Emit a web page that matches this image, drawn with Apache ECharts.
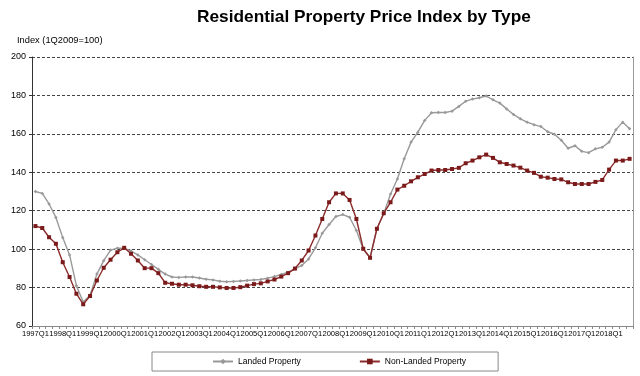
<!DOCTYPE html>
<html>
<head>
<meta charset="utf-8">
<script src="https://cdn.jsdelivr.net/npm/echarts@6/dist/echarts.min.js"></script>
<style>
  html, body { margin: 0; padding: 0; background: #fff; }
  #chart { width: 640px; height: 376px; }
</style>
</head>
<body>
<div id="chart"></div>
<script>
// quarters, 1997Q1 .. 2018Q4
const quarters = [
  '1997Q1','1997Q2','1997Q3','1997Q4','1998Q1','1998Q2','1998Q3','1998Q4',
  '1999Q1','1999Q2','1999Q3','1999Q4','2000Q1','2000Q2','2000Q3','2000Q4',
  '2001Q1','2001Q2','2001Q3','2001Q4','2002Q1','2002Q2','2002Q3','2002Q4',
  '2003Q1','2003Q2','2003Q3','2003Q4','2004Q1','2004Q2','2004Q3','2004Q4',
  '2005Q1','2005Q2','2005Q3','2005Q4','2006Q1','2006Q2','2006Q3','2006Q4',
  '2007Q1','2007Q2','2007Q3','2007Q4','2008Q1','2008Q2','2008Q3','2008Q4',
  '2009Q1','2009Q2','2009Q3','2009Q4','2010Q1','2010Q2','2010Q3','2010Q4',
  '2011Q1','2011Q2','2011Q3','2011Q4','2012Q1','2012Q2','2012Q3','2012Q4',
  '2013Q1','2013Q2','2013Q3','2013Q4','2014Q1','2014Q2','2014Q3','2014Q4',
  '2015Q1','2015Q2','2015Q3','2015Q4','2016Q1','2016Q2','2016Q3','2016Q4',
  '2017Q1','2017Q2','2017Q3','2017Q4','2018Q1','2018Q2','2018Q3','2018Q4'
]

const landed = [
  130, 129, 123.5, 116.5, 106, 97, 81, 72.5, 76, 87,
  94, 99.5, 100.5, 100.5, 99, 97, 94.5, 92, 89.5, 87,
  85.5, 85.3, 85.5, 85.5, 85, 84.3, 84, 83.3, 83, 83.2,
  83.4, 83.7, 84, 84.2, 84.9, 85.7, 86.8, 88, 89.7, 91.5,
  94.9, 100.7, 108.3, 112.8, 117, 118, 116.6, 109.7, 100, 95.5,
  110.6, 118.4, 128.7, 136.5, 147, 155.7, 160.9, 167, 171, 171.1,
  171.1, 171.8, 174.3, 177, 178.1, 178.8, 179.7, 177.7, 176, 173,
  170.1, 167.8, 166.1, 164.8, 163.8, 161.1, 159.8, 156.7, 152.5, 153.8,
  150.9, 150.2, 152.2, 153, 155.7, 162.2, 166.1, 162.6
]

const nonLanded = [
  112, 111, 106.2, 102.8, 93.2, 85.5, 76.8, 71.3, 75.6, 83.7,
  90.3, 94.5, 98.4, 100.7, 97.6, 94.1, 90.1, 90.1, 87.5, 82.5,
  82, 81.5, 81.5, 81.2, 80.7, 80.4, 80.4, 80.1, 79.8, 79.8,
  80.2, 81, 81.8, 82.2, 83.2, 84.2, 85.7, 87.5, 89.9, 94.1,
  99.3, 107.1, 115.7, 124.4, 129, 129, 125.6, 115.7, 100.2, 95.5,
  110.6, 118.7, 124.4, 131, 133, 135.3, 137.4, 139.1, 140.9, 141.2,
  141.2, 141.7, 142.3, 144.7, 146.1, 147.8, 149.2, 147.5, 145.2, 144.3,
  143.5, 142.4, 140.9, 139.7, 137.7, 137.2, 136.5, 136.3, 134.8, 133.9,
  133.9, 133.9, 135, 136, 141.4, 146.1, 146.1, 147
]

const yMin = 60
const yMax = 200
const yStep = 20

const chart = echarts.init(document.getElementById('chart'))

const FONT = '"Liberation Sans", Arial, sans-serif'

const option = {
  animation: false,
  backgroundColor: '#fff',
  textStyle: { fontFamily: FONT, color: '#000' },
  title: [
    {
      text: 'Residential Property Price Index by Type',
      left: 197,
      top: 9,
      padding: 0,
      textStyle: { fontSize: 17.3, fontWeight: 'bold', color: '#000', fontFamily: FONT }
    },
    {
      text: 'Index (1Q2009=100)',
      left: 17,
      top: 36,
      padding: 0,
      textStyle: { fontSize: 9.3, fontWeight: 'normal', color: '#000', fontFamily: FONT }
    }
  ],
  legend: {
    left: 152,
    top: 352,
    padding: [5, 32, 5, 60],
    itemGap: 58,
    itemWidth: 20,
    itemHeight: 7,
    borderColor: '#888',
    borderWidth: 1,
    textStyle: { fontSize: 8.5, color: '#000', fontFamily: FONT },
    data: ['Landed Property', 'Non-Landed Property']
  },
  grid: {
    left: 32,
    right: 7,
    top: 57,
    bottom: 50,
    containLabel: false
  },
  xAxis: {
    type: 'category',
    data: quarters,
    boundaryGap: true,
    axisLine: { lineStyle: { color: '#888', width: 1 } },
    axisTick: { show: true, interval: 0, length: 3, lineStyle: { color: '#888' } },
    axisLabel: {
      interval: 3,
      fontSize: 7.6,
      color: '#000',
      margin: 4,
      hideOverlap: false,
      fontFamily: FONT
    },
    splitLine: { show: false }
  },
  yAxis: [
    {
      type: 'value',
      min: yMin,
      max: yMax,
      interval: yStep,
      axisLine: { show: true, lineStyle: { color: '#333', width: 1 } },
      axisTick: { show: true, length: 3, lineStyle: { color: '#333' } },
      axisLabel: { fontSize: 9, color: '#000', margin: 6, fontFamily: FONT },
      splitLine: { show: true, lineStyle: { color: '#444', width: 1, type: [3, 2] } }
    },
    {
      // right frame of the plot area
      type: 'value',
      position: 'right',
      min: yMin,
      max: yMax,
      interval: yStep,
      axisLine: { show: true, lineStyle: { color: '#999', width: 1 } },
      axisTick: { show: false },
      axisLabel: { show: false },
      splitLine: { show: false }
    }
  ],
  series: [
    {
      name: 'Landed Property',
      type: 'line',
      data: landed,
      color: '#999999',
      symbol: 'diamond',
      symbolSize: 3.5,
      lineStyle: { width: 1.4, color: '#999999' },
      itemStyle: { color: '#999999' },
      z: 2
    },
    {
      name: 'Non-Landed Property',
      type: 'line',
      data: nonLanded,
      color: '#7b1a1a',
      symbol: 'rect',
      symbolSize: 4,
      lineStyle: { width: 1.4, color: '#8b2b2b' },
      itemStyle: { color: '#7b1a1a' },
      z: 3
    }
  ]
}

chart.setOption(option)
</script>
</body>
</html>
